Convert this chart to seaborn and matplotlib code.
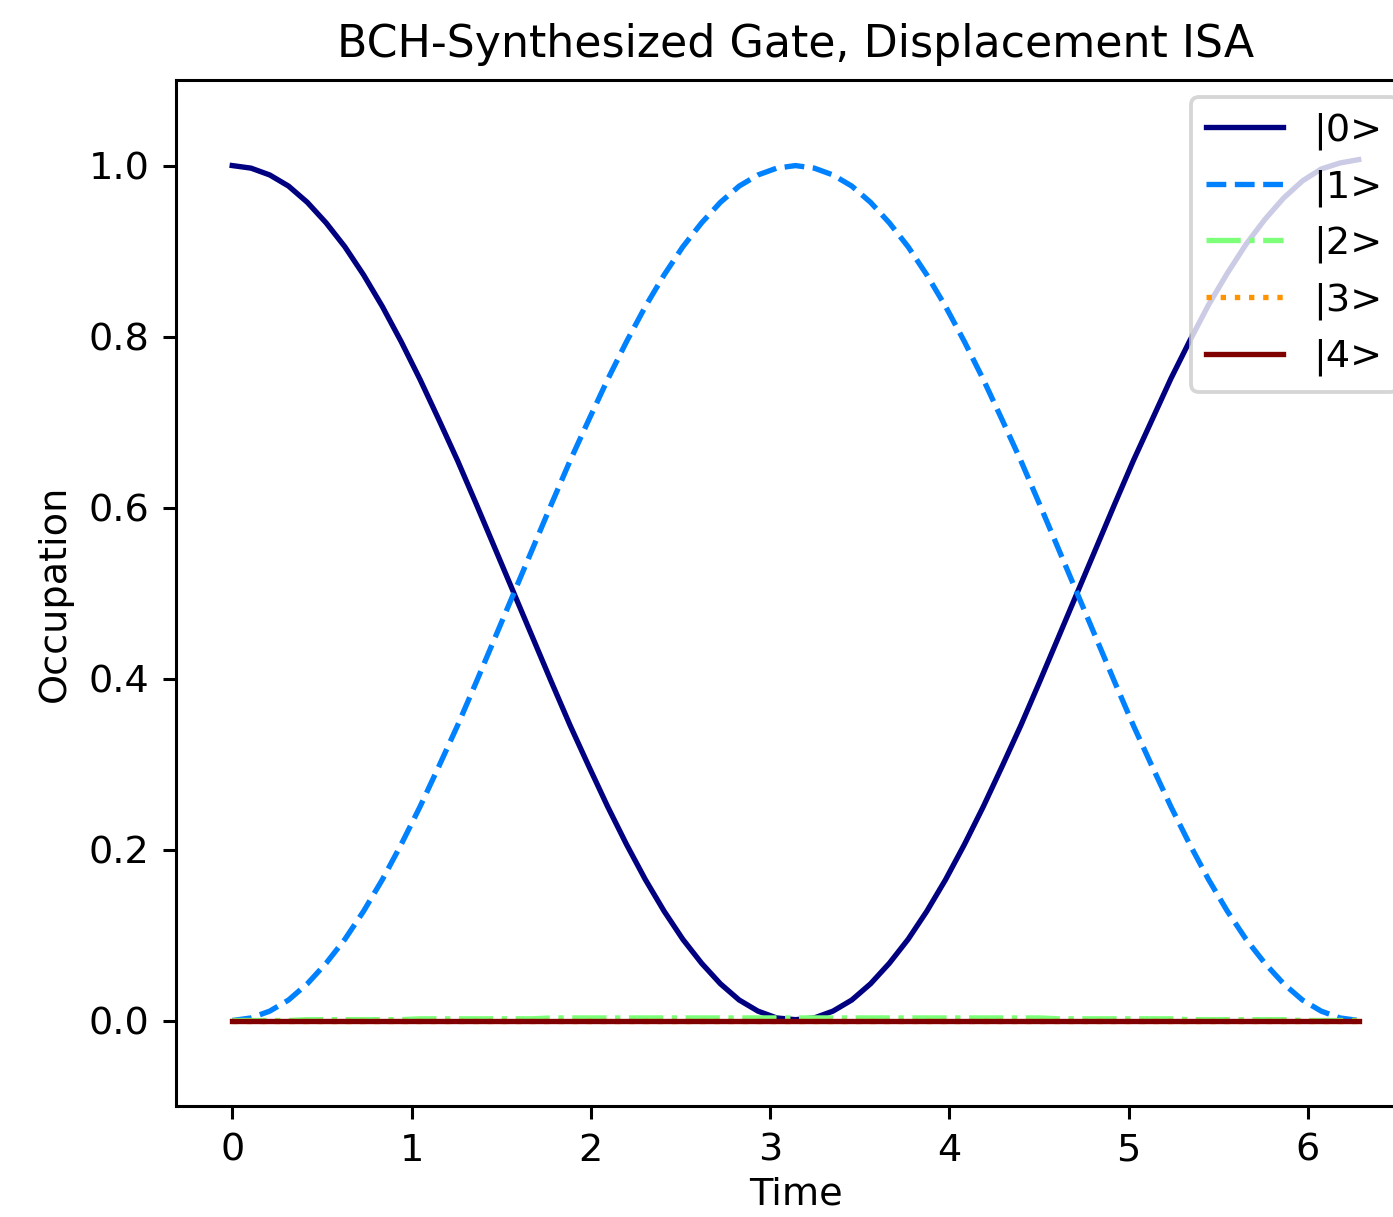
import numpy as np
import pandas as pd
import matplotlib
matplotlib.use("Agg")
import matplotlib.pyplot as plt
import seaborn as sns

# Occupation of the five lowest Fock states over one gate period
time = np.linspace(0.0, 6.283, 61)

p0 = [1.000, 0.997, 0.989, 0.976, 0.957, 0.933, 0.905, 0.872, 0.835, 0.794,
      0.750, 0.703, 0.655, 0.604, 0.552, 0.500, 0.448, 0.396, 0.345, 0.297,
      0.250, 0.206, 0.165, 0.128, 0.095, 0.067, 0.043, 0.024, 0.011, 0.003,
      0.001, 0.003, 0.011, 0.024, 0.043, 0.067, 0.095, 0.128, 0.165, 0.206,
      0.250, 0.297, 0.345, 0.396, 0.448, 0.500, 0.552, 0.604, 0.655, 0.703,
      0.751, 0.795, 0.837, 0.874, 0.908, 0.937, 0.962, 0.982, 0.996, 1.003,
      1.007]
p1 = [0.000, 0.003, 0.011, 0.024, 0.043, 0.067, 0.095, 0.128, 0.165, 0.206,
      0.250, 0.297, 0.345, 0.396, 0.448, 0.500, 0.552, 0.604, 0.655, 0.703,
      0.750, 0.794, 0.835, 0.872, 0.905, 0.933, 0.957, 0.976, 0.989, 0.997,
      1.000, 0.997, 0.989, 0.976, 0.957, 0.933, 0.905, 0.872, 0.835, 0.794,
      0.750, 0.703, 0.655, 0.604, 0.552, 0.500, 0.448, 0.396, 0.345, 0.297,
      0.250, 0.206, 0.165, 0.128, 0.095, 0.067, 0.043, 0.024, 0.011, 0.003,
      0.000]
p2 = [0.000, 0.000, 0.000, 0.000, 0.001, 0.001, 0.001, 0.001, 0.001, 0.001,
      0.002, 0.002, 0.002, 0.002, 0.002, 0.002, 0.002, 0.003, 0.003, 0.003,
      0.003, 0.003, 0.003, 0.003, 0.003, 0.003, 0.003, 0.003, 0.003, 0.003,
      0.003, 0.003, 0.003, 0.003, 0.003, 0.003, 0.003, 0.003, 0.003, 0.003,
      0.003, 0.003, 0.003, 0.003, 0.002, 0.002, 0.002, 0.002, 0.002, 0.002,
      0.002, 0.001, 0.001, 0.001, 0.001, 0.001, 0.001, 0.000, 0.000, 0.000,
      0.000]
p3 = [0.0] * 61
p4 = [0.0] * 61

labels = ["|0>", "|1>", "|2>", "|3>", "|4>"]
series = [p0, p1, p2, p3, p4]
styles = ["-", "--", "-.", ":", "-"]
colors = [plt.cm.jet(v) for v in np.linspace(0.0, 1.0, 5)]

df = pd.DataFrame({"Time": time})
for lab, vals in zip(labels, series):
    df[lab] = vals

fig = plt.figure(figsize=(1393 / 275, 1217 / 275), dpi=275)
ax = fig.add_axes([0.1263, 0.0912, 0.8895, 0.8430])

for lab, ls, col in zip(labels, styles, colors):
    sns.lineplot(data=df, x="Time", y=lab, ax=ax, color=col,
                 linestyle=ls, linewidth=1.4, label=lab)

ax.set_xlim(-0.314, 6.597)
ax.set_ylim(-0.1, 1.1)
ax.set_xticks(range(7))
ax.set_yticks([0.0, 0.2, 0.4, 0.6, 0.8, 1.0])
ax.set_xlabel("Time", labelpad=2)
ax.set_ylabel("Occupation")
ax.set_title("BCH-Synthesized Gate, Displacement ISA", fontsize=11.6)
ax.legend(loc="upper right", borderaxespad=0.45)

fig.savefig("out.png", dpi=275)
